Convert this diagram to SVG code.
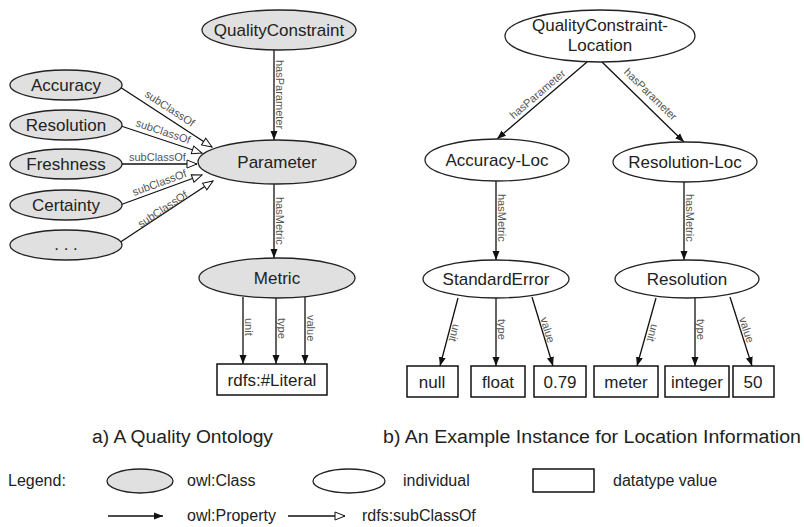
<svg xmlns="http://www.w3.org/2000/svg" width="804" height="527" viewBox="0 0 804 527">
<defs>
<marker id="arr" markerUnits="userSpaceOnUse" markerWidth="10" markerHeight="8" refX="9" refY="4" orient="auto"><path d="M0,0.5 L9,4 L0,7.5 z" fill="#111"/></marker>
<marker id="sub" markerUnits="userSpaceOnUse" markerWidth="13" markerHeight="10" refX="11" refY="5" orient="auto"><path d="M1,1 L11,5 L1,9 z" fill="#fff" stroke="#111" stroke-width="1"/></marker>
<style>
.cls{fill:#e0e0e0;stroke:#222;stroke-width:1.3}
.ind{fill:#fff;stroke:#222;stroke-width:1.3}
.box{fill:#fff;stroke:#111;stroke-width:1.5}
.t{font-family:"Liberation Sans",Arial,sans-serif;font-size:17px;fill:#222;text-anchor:middle}
.e{stroke:#111;stroke-width:1.3;fill:none}
.p{marker-end:url(#arr)}
.s{marker-end:url(#sub)}
.l{font-family:"Liberation Sans",Arial,sans-serif;font-size:11px;fill:#555}
.cap{font-family:"Liberation Sans",Arial,sans-serif;font-size:18px;fill:#222}
.lg{font-family:"Liberation Sans",Arial,sans-serif;font-size:16px;fill:#222}
</style>
</defs>
<rect width="804" height="527" fill="#fff"/>

<g id="connectors">
<!-- left ontology -->
<line class="e p" x1="274" y1="50" x2="274" y2="140"/>
<text class="l" transform="translate(276,60) rotate(90)">hasParameter</text>
<line class="e p" x1="274" y1="184" x2="274" y2="258"/>
<text class="l" transform="translate(276,197) rotate(90)">hasMetric</text>
<line class="e p" x1="243" y1="297" x2="243" y2="364"/>
<text class="l" transform="translate(245,318) rotate(90)">unit</text>
<line class="e p" x1="276" y1="298" x2="276" y2="364"/>
<text class="l" transform="translate(278,318) rotate(90)">type</text>
<line class="e p" x1="305" y1="297" x2="305" y2="364"/>
<text class="l" transform="translate(307,315) rotate(90)">value</text>

<line class="e s" x1="120" y1="87" x2="212" y2="147"/>
<text class="l" transform="translate(144,96) rotate(33.1)">subClassOf</text>
<line class="e s" x1="121" y1="126" x2="202" y2="153"/>
<text class="l" transform="translate(135,126) rotate(18.4)">subClassOf</text>
<line class="e s" x1="121" y1="164" x2="197" y2="164"/>
<text class="l" x="129" y="161">subClassOf</text>
<line class="e s" x1="120" y1="205" x2="202" y2="175"/>
<text class="l" transform="translate(134,196) rotate(-20.1)">subClassOf</text>
<line class="e s" x1="119" y1="243" x2="213" y2="181"/>
<text class="l" transform="translate(141,228) rotate(-33.4)">subClassOf</text>

<!-- right instance -->
<line class="e p" x1="587" y1="62" x2="497" y2="139"/>
<text class="l" text-anchor="middle" transform="translate(540,97) rotate(-40.6)">hasParameter</text>
<line class="e p" x1="602" y1="62" x2="684" y2="142"/>
<text class="l" text-anchor="middle" transform="translate(648,97) rotate(44.3)">hasParameter</text>
<line class="e p" x1="496" y1="181" x2="496" y2="260"/>
<text class="l" transform="translate(498,194) rotate(90)">hasMetric</text>
<line class="e p" x1="684" y1="182" x2="684" y2="260"/>
<text class="l" transform="translate(686,194) rotate(90)">hasMetric</text>

<line class="e p" x1="458" y1="298" x2="440" y2="366"/>
<text class="l" text-anchor="middle" transform="translate(451,332) rotate(104.8)">unit</text>
<line class="e p" x1="496" y1="298" x2="496" y2="366"/>
<text class="l" transform="translate(498,319) rotate(90)">type</text>
<line class="e p" x1="532" y1="297" x2="553" y2="366"/>
<text class="l" text-anchor="middle" transform="translate(544,331) rotate(73)">value</text>

<line class="e p" x1="656" y1="298" x2="637" y2="366"/>
<text class="l" text-anchor="middle" transform="translate(649,332) rotate(105.6)">unit</text>
<line class="e p" x1="695" y1="298" x2="695" y2="366"/>
<text class="l" transform="translate(697,319) rotate(90)">type</text>
<line class="e p" x1="730" y1="297" x2="752" y2="366"/>
<text class="l" text-anchor="middle" transform="translate(743,331) rotate(72.3)">value</text>
</g>

<g id="QualityConstraint"><ellipse class="cls" cx="279" cy="30" rx="77" ry="20"/><text class="t" x="279" y="36">QualityConstraint</text></g>
<g id="Parameter"><ellipse class="cls" cx="277" cy="162" rx="79" ry="22"/><text class="t" x="277" y="168">Parameter</text></g>
<g id="Metric"><ellipse class="cls" cx="277" cy="278" rx="78" ry="20"/><text class="t" x="277" y="284">Metric</text></g>
<g id="Accuracy"><ellipse class="cls" cx="66" cy="85" rx="56" ry="15"/><text class="t" x="66" y="91">Accuracy</text></g>
<g id="Resolution"><ellipse class="cls" cx="66" cy="125" rx="56" ry="15"/><text class="t" x="66" y="131">Resolution</text></g>
<g id="Freshness"><ellipse class="cls" cx="66" cy="164" rx="56" ry="15"/><text class="t" x="66" y="170">Freshness</text></g>
<g id="Certainty"><ellipse class="cls" cx="66" cy="205" rx="56" ry="15"/><text class="t" x="66" y="211">Certainty</text></g>
<g id="Other"><ellipse class="cls" cx="66" cy="245" rx="56" ry="15"/><text class="t" x="66" y="250">. . .</text></g>
<g id="Literal"><rect class="box" x="217" y="364" width="110" height="31"/><text class="t" x="272" y="386">rdfs:#Literal</text></g>

<g id="QCLocation"><ellipse class="ind" cx="600" cy="36" rx="95" ry="26"/><text class="t" x="600" y="31">QualityConstraint-</text><text class="t" x="600" y="51">Location</text></g>
<g id="AccuracyLoc"><ellipse class="ind" cx="497" cy="160" rx="72" ry="21"/><text class="t" x="497" y="166">Accuracy-Loc</text></g>
<g id="ResolutionLoc"><ellipse class="ind" cx="685" cy="162" rx="72" ry="20"/><text class="t" x="685" y="168">Resolution-Loc</text></g>
<g id="StandardError"><ellipse class="ind" cx="496" cy="279" rx="73" ry="19"/><text class="t" x="496" y="285">StandardError</text></g>
<g id="ResolutionInst"><ellipse class="ind" cx="687" cy="279" rx="72" ry="19"/><text class="t" x="687" y="285">Resolution</text></g>
<g id="null"><rect class="box" x="407" y="366" width="51" height="31"/><text class="t" x="432" y="388">null</text></g>
<g id="float"><rect class="box" x="471" y="366" width="54" height="31"/><text class="t" x="498" y="388">float</text></g>
<g id="v079"><rect class="box" x="534" y="366" width="52" height="31"/><text class="t" x="560" y="388">0.79</text></g>
<g id="meter"><rect class="box" x="594" y="366" width="64" height="31"/><text class="t" x="626" y="388">meter</text></g>
<g id="integer"><rect class="box" x="665" y="366" width="64" height="31"/><text class="t" x="697" y="388">integer</text></g>
<g id="v50"><rect class="box" x="733" y="366" width="41" height="31"/><text class="t" x="753" y="388">50</text></g>

<g id="captions">
<text class="cap" x="92" y="443" textLength="181" lengthAdjust="spacingAndGlyphs">a) A Quality Ontology</text>
<text class="cap" x="383" y="443" textLength="418" lengthAdjust="spacingAndGlyphs">b) An Example Instance for Location Information</text>
</g>

<g id="legend">
<text class="lg" x="8" y="486">Legend:</text>
<ellipse class="cls" cx="140" cy="481" rx="33" ry="12"/>
<text class="lg" x="187" y="486">owl:Class</text>
<ellipse class="ind" cx="349" cy="481" rx="36" ry="12"/>
<text class="lg" x="403" y="486">individual</text>
<rect class="box" x="533" y="469" width="61" height="23"/>
<text class="lg" x="613" y="486">datatype value</text>
<line class="e p" x1="108" y1="516" x2="163" y2="516"/>
<text class="lg" x="187" y="521">owl:Property</text>
<line class="e s" x1="288" y1="516" x2="345" y2="516"/>
<text class="lg" x="362" y="521">rdfs:subClassOf</text>
</g>
</svg>
